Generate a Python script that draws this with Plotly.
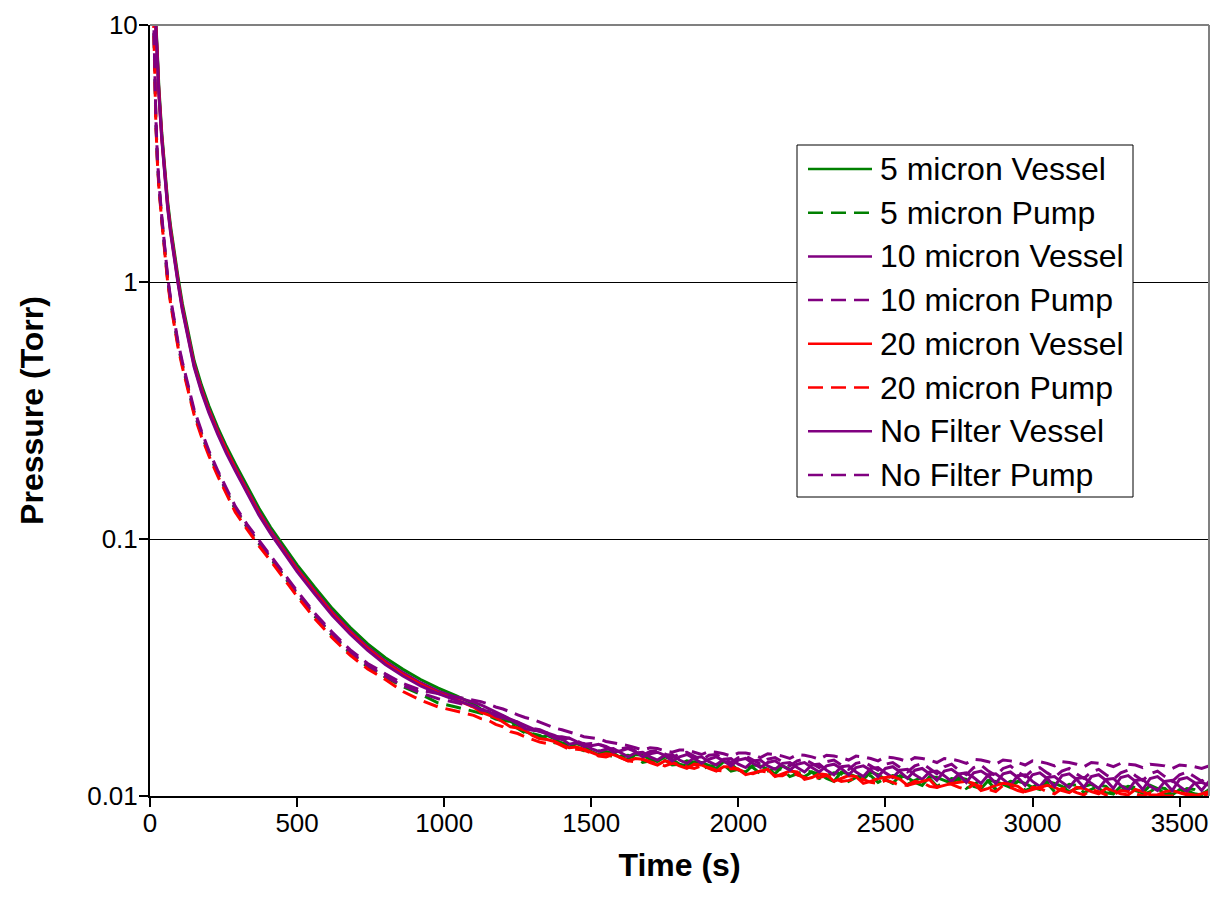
import plotly.graph_objects as go

# ---------------- data ----------------
T_EARLY = [10, 15, 20, 25, 30, 40, 50, 60, 70, 80, 95, 110, 130, 150, 175, 200, 230, 260, 290,
           330, 370, 410, 450, 500, 560, 620, 680, 740, 800, 860, 920, 980, 1040, 1100]
T_TAIL = list(range(1125, 3601, 25))  # sampling grid of the tail, every 25 s
TIME = T_EARLY + T_TAIL

P_5UM_VESSEL = [20.6, 13.4, 10.3, 7.8, 5.8, 3.8, 2.78, 2.06, 1.65, 1.36, 1.05, 0.824, 0.628, 0.494,
                0.397, 0.330, 0.272, 0.229, 0.196, 0.160, 0.132, 0.111, 0.0958, 0.0793, 0.0649,
                0.0536, 0.0453, 0.0391, 0.0345, 0.0311, 0.0284, 0.0263, 0.0246, 0.0228,
                0.0218, 0.0211, 0.0201, 0.0197, 0.0195, 0.0189, 0.0178, 0.0174, 0.0168, 0.0172,
                0.0167, 0.0160, 0.0155, 0.0160, 0.0156, 0.0149, 0.0145, 0.0149, 0.0147, 0.0141,
                0.0139, 0.0145, 0.0144, 0.0139, 0.0136, 0.0142, 0.0139, 0.0133, 0.0131, 0.0136,
                0.0135, 0.0131, 0.0128, 0.0136, 0.0133, 0.0126, 0.0124, 0.0132, 0.0131, 0.0127,
                0.0122, 0.0131, 0.0127, 0.0121, 0.0119, 0.0124, 0.0122, 0.0117, 0.0114, 0.0124,
                0.0122, 0.0119, 0.0116, 0.0124, 0.0121, 0.0116, 0.0112, 0.0120, 0.0118, 0.0113,
                0.0110, 0.0119, 0.0118, 0.0115, 0.0112, 0.0118, 0.0116, 0.0109, 0.0107, 0.0115,
                0.0114, 0.0111, 0.0108, 0.0114, 0.0112, 0.0108, 0.0106, 0.0114, 0.0112, 0.0109,
                0.0104, 0.0107, 0.0109, 0.0111, 0.0107, 0.0103, 0.0102, 0.0109, 0.0108, 0.0105,
                0.0103, 0.0110, 0.0107, 0.0102, 0.0101, 0.0106, 0.0105, 0.0102, 0.0101, 0.0106]
P_5UM_PUMP = [14.0, 7.0, 4.2, 3.0, 2.4, 1.75, 1.32, 1.02, 0.84, 0.71, 0.57, 0.475, 0.38, 0.31,
              0.255, 0.215, 0.180, 0.152, 0.130, 0.111, 0.096, 0.084, 0.073, 0.061, 0.050,
              0.042, 0.036, 0.0318, 0.0290, 0.0266, 0.0249, 0.0230, 0.0222, 0.0214,
              0.0210, 0.0206, 0.0199, 0.0196, 0.0191, 0.0183, 0.0176, 0.0175, 0.0172, 0.0166,
              0.0161, 0.0161, 0.0158, 0.0154, 0.0150, 0.0151, 0.0150, 0.0146, 0.0142, 0.0143,
              0.0144, 0.0141, 0.0135, 0.0137, 0.0140, 0.0138, 0.0132, 0.0133, 0.0137, 0.0135,
              0.0128, 0.0130, 0.0133, 0.0132, 0.0125, 0.0127, 0.0131, 0.0129, 0.0122, 0.0125,
              0.0128, 0.0127, 0.0119, 0.0122, 0.0125, 0.0124, 0.0117, 0.0120, 0.0123, 0.0122,
              0.0114, 0.0118, 0.0121, 0.0120, 0.0113, 0.0117, 0.0120, 0.0119, 0.0111, 0.0115,
              0.0118, 0.0117, 0.0109, 0.0113, 0.0117, 0.0116, 0.0107, 0.0111, 0.0115, 0.0114,
              0.0106, 0.0110, 0.0114, 0.0113, 0.0105, 0.0108, 0.0113, 0.0112, 0.0104, 0.0107,
              0.0111, 0.0110, 0.0103, 0.0106, 0.0110, 0.0109, 0.0102, 0.0105, 0.0109, 0.0108,
              0.0101, 0.0104, 0.0108, 0.0107, 0.0101, 0.0103, 0.0107, 0.0106, 0.0102, 0.0105]
P_10UM_VESSEL = [20.0, 13.0, 10.0, 7.6, 5.6, 3.7, 2.7, 2.0, 1.6, 1.32, 1.02, 0.80, 0.61, 0.48,
                 0.385, 0.32, 0.264, 0.222, 0.190, 0.155, 0.128, 0.108, 0.093, 0.077, 0.063,
                 0.052, 0.044, 0.038, 0.0335, 0.0302, 0.0276, 0.0256, 0.0242, 0.0232,
                 0.0226, 0.0219, 0.0213, 0.0205, 0.0199, 0.0194, 0.0189, 0.0183, 0.0178, 0.0176,
                 0.0172, 0.0167, 0.0159, 0.0161, 0.0160, 0.0153, 0.0149, 0.0152, 0.0153, 0.0147,
                 0.0142, 0.0147, 0.0148, 0.0142, 0.0138, 0.0144, 0.0145, 0.0138, 0.0134, 0.0141,
                 0.0142, 0.0136, 0.0132, 0.0139, 0.0140, 0.0133, 0.0129, 0.0137, 0.0138, 0.0131,
                 0.0127, 0.0134, 0.0135, 0.0129, 0.0124, 0.0132, 0.0133, 0.0126, 0.0121, 0.0130,
                 0.0131, 0.0124, 0.0119, 0.0128, 0.0129, 0.0123, 0.0118, 0.0126, 0.0127, 0.0121,
                 0.0116, 0.0124, 0.0125, 0.0120, 0.0114, 0.0122, 0.0123, 0.0118, 0.0112, 0.0121,
                 0.0122, 0.0116, 0.0110, 0.0120, 0.0121, 0.0114, 0.0109, 0.0118, 0.0119, 0.0113,
                 0.0108, 0.0117, 0.0118, 0.0112, 0.0107, 0.0116, 0.0117, 0.0110, 0.0105, 0.0115,
                 0.0116, 0.0109, 0.0105, 0.0114, 0.0115, 0.0109, 0.0104, 0.0112, 0.0113, 0.0110]
P_10UM_PUMP = [14.1, 7.1, 4.25, 3.03, 2.42, 1.77, 1.33, 1.03, 0.85, 0.72, 0.575, 0.48, 0.385, 0.312,
               0.259, 0.216, 0.183, 0.153, 0.132, 0.112, 0.097, 0.085, 0.0735, 0.0617, 0.0507,
               0.0425, 0.0364, 0.0322, 0.0292, 0.0269, 0.0252, 0.0239, 0.0231, 0.0223,
               0.0217, 0.0216, 0.0208, 0.0205, 0.0197, 0.0194, 0.0186, 0.0184, 0.0181, 0.0176,
               0.0170, 0.0170, 0.0168, 0.0164, 0.0159, 0.0160, 0.0159, 0.0156, 0.0151, 0.0153,
               0.0154, 0.0150, 0.0144, 0.0149, 0.0150, 0.0146, 0.0141, 0.0146, 0.0148, 0.0143,
               0.0138, 0.0144, 0.0145, 0.0140, 0.0135, 0.0141, 0.0143, 0.0138, 0.0133, 0.0139,
               0.0141, 0.0136, 0.0131, 0.0137, 0.0139, 0.0134, 0.0129, 0.0136, 0.0138, 0.0132,
               0.0127, 0.0134, 0.0136, 0.0131, 0.0126, 0.0133, 0.0135, 0.0129, 0.0124, 0.0131,
               0.0134, 0.0128, 0.0122, 0.0130, 0.0133, 0.0126, 0.0121, 0.0129, 0.0132, 0.0125,
               0.0120, 0.0128, 0.0131, 0.0124, 0.0119, 0.0126, 0.0129, 0.0123, 0.0118, 0.0125,
               0.0128, 0.0122, 0.0117, 0.0124, 0.0127, 0.0121, 0.0116, 0.0123, 0.0126, 0.0120,
               0.0115, 0.0122, 0.0125, 0.0119, 0.0114, 0.0121, 0.0124, 0.0119, 0.0114, 0.0120]
P_20UM_VESSEL = [19.7, 12.8, 9.85, 7.5, 5.5, 3.64, 2.66, 1.97, 1.58, 1.30, 1.005, 0.788, 0.601, 0.473,
                 0.379, 0.315, 0.260, 0.219, 0.187, 0.153, 0.126, 0.106, 0.0916, 0.0758, 0.0621,
                 0.0512, 0.0433, 0.0374, 0.0330, 0.0297, 0.0272, 0.0252, 0.0237, 0.0222,
                 0.0212, 0.0207, 0.0202, 0.0194, 0.0186, 0.0184, 0.0180, 0.0172, 0.0167, 0.0166,
                 0.0163, 0.0158, 0.0154, 0.0155, 0.0152, 0.0148, 0.0144, 0.0146, 0.0145, 0.0141,
                 0.0137, 0.0140, 0.0139, 0.0135, 0.0132, 0.0137, 0.0135, 0.0131, 0.0128, 0.0133,
                 0.0132, 0.0128, 0.0125, 0.0130, 0.0130, 0.0127, 0.0121, 0.0123, 0.0125, 0.0127,
                 0.0119, 0.0122, 0.0125, 0.0124, 0.0116, 0.0118, 0.0122, 0.0121, 0.0114, 0.0117,
                 0.0120, 0.0119, 0.0112, 0.0114, 0.0117, 0.0118, 0.0119, 0.0116, 0.0110, 0.0112,
                 0.0114, 0.0116, 0.0108, 0.0110, 0.0112, 0.0113, 0.0114, 0.0112, 0.0105, 0.0107,
                 0.0110, 0.0112, 0.0111, 0.0109, 0.0104, 0.0106, 0.0108, 0.0110, 0.0108, 0.0105,
                 0.0103, 0.0108, 0.0107, 0.0104, 0.0102, 0.0107, 0.0105, 0.0102, 0.0101, 0.0106,
                 0.0104, 0.0101, 0.0101, 0.0104, 0.0105, 0.0103, 0.0101, 0.0100, 0.0102, 0.0104]
P_20UM_PUMP = [13.7, 6.9, 4.1, 2.94, 2.35, 1.72, 1.29, 1.0, 0.823, 0.696, 0.559, 0.466, 0.372, 0.304,
               0.250, 0.211, 0.176, 0.149, 0.127, 0.109, 0.094, 0.0823, 0.0715, 0.0598, 0.0490,
               0.0412, 0.0353, 0.0312, 0.0284, 0.0255, 0.0236, 0.0222, 0.0214, 0.0206,
               0.0200, 0.0197, 0.0190, 0.0186, 0.0178, 0.0175, 0.0170, 0.0166, 0.0162, 0.0160,
               0.0162, 0.0157, 0.0152, 0.0152, 0.0151, 0.0147, 0.0143, 0.0142, 0.0145, 0.0141,
               0.0137, 0.0136, 0.0139, 0.0136, 0.0133, 0.0131, 0.0134, 0.0133, 0.0130, 0.0128,
               0.0131, 0.0129, 0.0126, 0.0125, 0.0128, 0.0127, 0.0123, 0.0122, 0.0125, 0.0124,
               0.0120, 0.0120, 0.0124, 0.0121, 0.0118, 0.0116, 0.0118, 0.0120, 0.0117, 0.0114,
               0.0115, 0.0117, 0.0116, 0.0113, 0.0112, 0.0115, 0.0113, 0.0110, 0.0110, 0.0114,
               0.0113, 0.0109, 0.0108, 0.0112, 0.0111, 0.0108, 0.0106, 0.0111, 0.0109, 0.0106,
               0.0104, 0.0110, 0.0108, 0.0105, 0.0103, 0.0108, 0.0107, 0.0104, 0.0102, 0.0107,
               0.0106, 0.0103, 0.0101, 0.0106, 0.0104, 0.0101, 0.0101, 0.0105, 0.0104, 0.0102,
               0.0100, 0.0103, 0.0102, 0.0100, 0.0100, 0.0103, 0.0102, 0.0101, 0.0100, 0.0102]
P_NOFILTER_VESSEL = [19.4, 12.6, 9.7, 7.4, 5.4, 3.59, 2.62, 1.94, 1.55, 1.28, 0.99, 0.776, 0.592, 0.466,
                     0.373, 0.310, 0.256, 0.215, 0.184, 0.150, 0.124, 0.105, 0.0902, 0.0747, 0.0611,
                     0.0504, 0.0427, 0.0369, 0.0325, 0.0293, 0.0268, 0.0250, 0.0236, 0.0224,
                     0.0216, 0.0214, 0.0205, 0.0201, 0.0198, 0.0191, 0.0183, 0.0180, 0.0179, 0.0174,
                     0.0168, 0.0166, 0.0168, 0.0163, 0.0156, 0.0157, 0.0159, 0.0155, 0.0148, 0.0150,
                     0.0153, 0.0149, 0.0142, 0.0146, 0.0148, 0.0144, 0.0137, 0.0142, 0.0145, 0.0140,
                     0.0134, 0.0139, 0.0142, 0.0137, 0.0131, 0.0138, 0.0140, 0.0134, 0.0129, 0.0135,
                     0.0137, 0.0131, 0.0126, 0.0133, 0.0135, 0.0129, 0.0124, 0.0131, 0.0133, 0.0128,
                     0.0121, 0.0129, 0.0131, 0.0126, 0.0119, 0.0128, 0.0130, 0.0124, 0.0117, 0.0126,
                     0.0128, 0.0122, 0.0115, 0.0125, 0.0127, 0.0121, 0.0113, 0.0123, 0.0125, 0.0120,
                     0.0112, 0.0122, 0.0124, 0.0118, 0.0110, 0.0121, 0.0123, 0.0117, 0.0109, 0.0120,
                     0.0122, 0.0116, 0.0108, 0.0119, 0.0121, 0.0115, 0.0107, 0.0118, 0.0120, 0.0114,
                     0.0106, 0.0117, 0.0119, 0.0113, 0.0105, 0.0116, 0.0118, 0.0113, 0.0105, 0.0114]
P_NOFILTER_PUMP = [14.4, 7.2, 4.33, 3.09, 2.47, 1.80, 1.36, 1.05, 0.865, 0.731, 0.587, 0.489, 0.391, 0.319,
                   0.263, 0.221, 0.185, 0.157, 0.134, 0.114, 0.099, 0.0865, 0.0752, 0.0628, 0.0515,
                   0.0433, 0.0371, 0.0328, 0.0299, 0.0274, 0.0258, 0.0250, 0.0243, 0.0236,
                   0.0233, 0.0228, 0.0222, 0.0218, 0.0212, 0.0207, 0.0202, 0.0199, 0.0194, 0.0189,
                   0.0184, 0.0181, 0.0178, 0.0174, 0.0170, 0.0169, 0.0167, 0.0163, 0.0161, 0.0160,
                   0.0157, 0.0154, 0.0151, 0.0154, 0.0153, 0.0150, 0.0148, 0.0151, 0.0151, 0.0148,
                   0.0145, 0.0149, 0.0148, 0.0146, 0.0143, 0.0147, 0.0147, 0.0145, 0.0141, 0.0146,
                   0.0145, 0.0143, 0.0140, 0.0145, 0.0144, 0.0142, 0.0139, 0.0144, 0.0143, 0.0141,
                   0.0138, 0.0143, 0.0142, 0.0140, 0.0137, 0.0142, 0.0141, 0.0139, 0.0136, 0.0141,
                   0.0140, 0.0138, 0.0135, 0.0140, 0.0139, 0.0137, 0.0134, 0.0139, 0.0138, 0.0136,
                   0.0133, 0.0138, 0.0137, 0.0135, 0.0132, 0.0137, 0.0136, 0.0134, 0.0131, 0.0136,
                   0.0135, 0.0133, 0.0130, 0.0135, 0.0134, 0.0133, 0.0130, 0.0134, 0.0133, 0.0132,
                   0.0129, 0.0133, 0.0132, 0.0131, 0.0128, 0.0132, 0.0131, 0.0130, 0.0128, 0.0131]

SERIES_NAMES = ["5 micron Vessel", "5 micron Pump", "10 micron Vessel", "10 micron Pump",
                "20 micron Vessel", "20 micron Pump", "No Filter Vessel", "No Filter Pump"]
SERIES_VALUES = [P_5UM_VESSEL, P_5UM_PUMP, P_10UM_VESSEL, P_10UM_PUMP,
                 P_20UM_VESSEL, P_20UM_PUMP, P_NOFILTER_VESSEL, P_NOFILTER_PUMP]

X_TICKS = [0, 500, 1000, 1500, 2000, 2500, 3000, 3500]
Y_TICKS = [0.01, 0.1, 1, 10]
Y_TICK_LABELS = ["0.01", "0.1", "1", "10"]

# ---------------- styles ----------------
COLORS = ["#008000", "#008000", "#800080", "#800080", "#FF0000", "#FF0000", "#800080", "#800080"]
DASHES = ["solid", "15px,8px", "solid", "15px,8px", "solid", "15px,8px", "solid", "15px,8px"]
FONT = "Liberation Sans, Arial, sans-serif"

W, H = 1217, 914
L, R, T, B = 150, 8, 25, 118
PW, PH = W - L - R, H - T - B

for v in SERIES_VALUES:
    assert len(v) == len(TIME), (len(v), len(TIME))

fig = go.Figure()
for name, vals, col, dash in zip(SERIES_NAMES, SERIES_VALUES, COLORS, DASHES):
    fig.add_trace(go.Scatter(x=TIME, y=vals, mode="lines", name=name,
                             line=dict(color=col, width=3, dash=dash), showlegend=False))


def px_to_paper(xp, yp):
    return (xp - L) / PW, (H - B - yp) / PH


shapes = []
annotations = []
# top and right frame (gray)
shapes.append(dict(type="line", xref="paper", yref="paper", x0=0, x1=1, y0=1, y1=1,
                   line=dict(color="#808080", width=2)))
shapes.append(dict(type="line", xref="paper", yref="paper", x0=1, x1=1, y0=0, y1=1,
                   line=dict(color="#808080", width=2)))

# legend box
bx0, by0 = px_to_paper(797, 145)
bx1, by1 = px_to_paper(1133, 497)
shapes.append(dict(type="rect", xref="paper", yref="paper", x0=bx0, x1=bx1, y0=by1, y1=by0,
                   line=dict(color="#000000", width=1), fillcolor="#FFFFFF", layer="above"))
row0, row_step = 169, 43.7
for i, (name, col, dash) in enumerate(zip(SERIES_NAMES, COLORS, DASHES)):
    yp = row0 + i * row_step
    lx0, ly = px_to_paper(808, yp)
    lx1, _ = px_to_paper(872, yp)
    shapes.append(dict(type="line", xref="paper", yref="paper", x0=lx0, x1=lx1, y0=ly, y1=ly,
                       line=dict(color=col, width=2.5, dash=dash), layer="above"))
    tx, _ = px_to_paper(878, yp)
    annotations.append(dict(xref="paper", yref="paper", x=tx, y=ly, text=name, showarrow=False,
                            xanchor="left", yanchor="middle",
                            font=dict(family=FONT, size=32, color="#000000")))

fig.update_layout(
    width=W, height=H,
    margin=dict(l=L, r=R, t=T, b=B, pad=0),
    paper_bgcolor="#FFFFFF", plot_bgcolor="#FFFFFF",
    font=dict(family=FONT, color="#000000"),
    shapes=shapes, annotations=annotations,
    showlegend=False,
    xaxis=dict(range=[0, 3600], tickvals=X_TICKS, ticks="outside", ticklen=9, tickwidth=1.5,
               tickcolor="#000000", showline=True, linecolor="#000000", linewidth=2,
               showgrid=False, zeroline=False, tickfont=dict(family=FONT, size=26),
               ticklabelstandoff=-6,
               title=dict(text="<b>Time (s)</b>", font=dict(family=FONT, size=32), standoff=16)),
    yaxis=dict(type="log", range=[-2, 1], tickvals=Y_TICKS, ticktext=Y_TICK_LABELS,
               ticks="outside", ticklen=9, tickwidth=1.5, tickcolor="#000000",
               showline=True, linecolor="#000000", linewidth=2,
               showgrid=True, gridcolor="#000000", gridwidth=1, zeroline=False,
               tickfont=dict(family=FONT, size=26), ticklabelstandoff=-4,
               title=dict(text="<b>Pressure (Torr)</b>", font=dict(family=FONT, size=32), standoff=34)),
)

fig.write_html("out.html")
